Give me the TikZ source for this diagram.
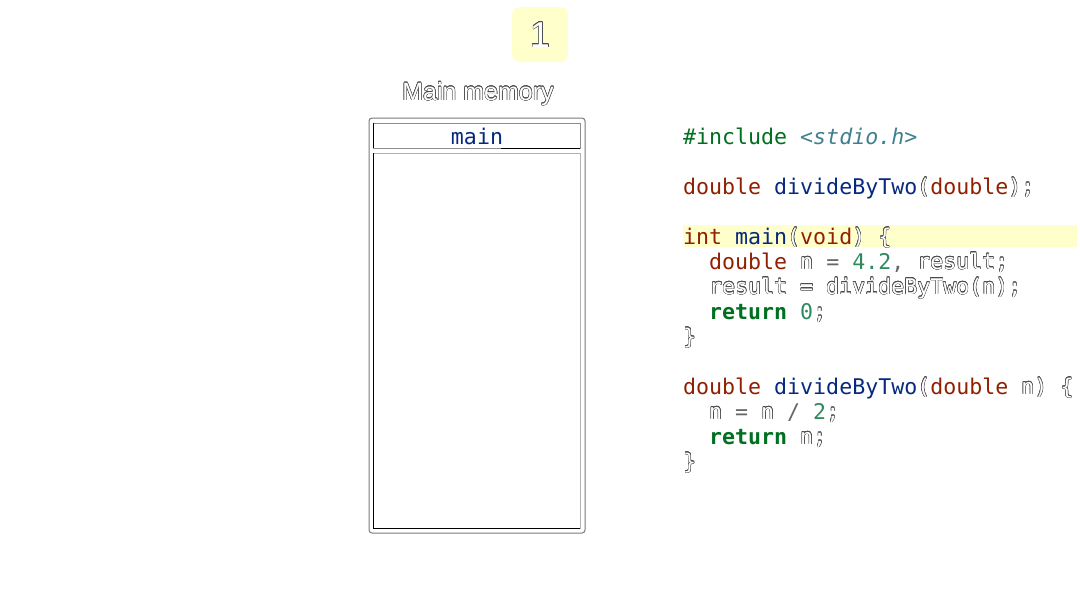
\documentclass[tikz,border=0pt]{standalone}
\usepackage{fontspec}
\usepackage{contour}
\setmainfont{Liberation Sans}
\newfontfamily\codefont{DejaVu Sans Mono}
\contourlength{0.45pt}

\definecolor{hl}{HTML}{FFFFCC}
\definecolor{kwtype}{HTML}{902000}
\definecolor{fname}{HTML}{06287E}
\definecolor{numc}{HTML}{2E8A5E}
\definecolor{kwc}{HTML}{007020}
\definecolor{opc}{HTML}{666666}
\definecolor{filec}{HTML}{3F7F8F}
\definecolor{rimc}{HTML}{7A7A7A}

% hollow (outlined) text
\newcommand{\hollow}[1]{\contour{black!70}{\textcolor{white}{#1}}}
\newcommand{\ty}[1]{\textcolor{kwtype}{#1}}
\newcommand{\fn}[1]{\textcolor{fname}{#1}}
\newcommand{\nm}[1]{\textcolor{numc}{#1}}
\newcommand{\op}[1]{\textcolor{opc}{#1}}
\newcommand{\rt}[1]{\textcolor{kwc}{\bfseries #1}}
\newcommand{\ind}{\hphantom{xx}}

\tikzset{
  codeline/.style={anchor=base west, inner sep=0pt, font=\codefont\fontsize{21.6}{25}\selectfont},
  badge/.style={fill=hl, rounded corners=8pt},
  rim/.style={draw=rimc, line width=1pt},
}

\begin{document}
\begin{tikzpicture}[x=1pt,y=-1pt]
\useasboundingbox (0,0) rectangle (1080,608);

% step badge
\fill[badge] (512,7) rectangle (568,62);
\node[inner sep=0pt, font=\fontsize{36}{36}\selectfont] (step) at (540,35) {\hollow{1}};

% memory panel
\node[inner sep=0pt, font=\fontsize{25}{25}\selectfont] (memtitle) at (478,94) {\hollow{Main memory}};
\draw[rim, rounded corners=3pt] (369,118) rectangle (585,533);
\coordinate (frametl) at (373,123);
\coordinate (framebr) at (580,148);
\draw[draw=black!45, line width=0.8pt] (frametl) rectangle (framebr);
\draw[black, line width=1pt] (373,123) -- (373,148);
\draw[black, line width=1pt] (501,148) -- (580,148);
\node[inner sep=0pt, font=\codefont\fontsize{21.6}{25}\selectfont, text=fname] (framename) at (477,136) {main};
\draw[draw=black!30, line width=0.8pt] (373,153) rectangle (580,528);
\draw[black, line width=1pt] (373,153) -- (373,528) -- (580,528);

% current line highlight
\fill[hl] (683,225) rectangle (1077,247);

% source code
\node[codeline] (c1) at (683,144) {\textcolor{kwc}{\#include} \textcolor{filec}{\itshape <stdio.h>}};
\node[codeline] (c2) at (683,194) {\ty{double} \fn{divideByTwo}\hollow{(}\ty{double}\hollow{);}};
\node[codeline] (c3) at (683,244) {\ty{int} \fn{main}\hollow{(}\ty{void}\hollow{)} \hollow{\{}};
\node[codeline] (c4) at (683,269) {\ind\ty{double} \hollow{n} \op{=} \nm{4.2}\op{,} \hollow{result;}};
\node[codeline] (c5) at (683,294) {\ind\hollow{result = divideByTwo(n);}};
\node[codeline] (c6) at (683,319) {\ind\rt{return} \nm{0}\hollow{;}};
\node[codeline] (c7) at (683,344) {\hollow{\}}};
\node[codeline] (c8) at (683,394) {\ty{double} \fn{divideByTwo}\hollow{(}\ty{double} \hollow{n)} \hollow{\{}};
\node[codeline] (c9) at (683,419) {\ind\hollow{n} \op{=} \hollow{n} \op{/} \nm{2}\hollow{;}};
\node[codeline] (c10) at (683,444) {\ind\rt{return} \hollow{n;}};
\node[codeline] (c11) at (683,469) {\hollow{\}}};
\end{tikzpicture}
\end{document}
